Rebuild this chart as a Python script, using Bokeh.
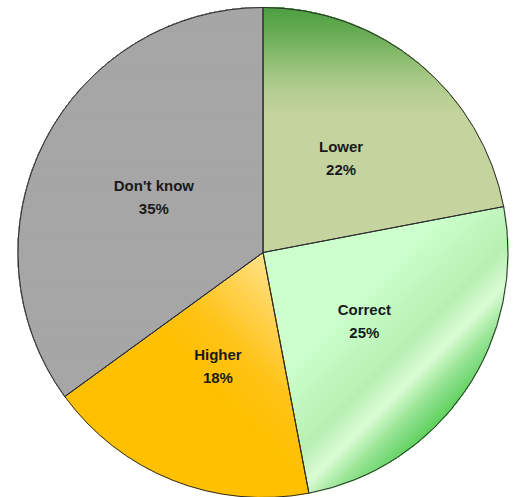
import math
import numpy as np
from bokeh.plotting import figure
from bokeh.models import ColumnDataSource, Range1d
from bokeh.embed import file_html
from bokeh.resources import INLINE
from bokeh.core.properties import value

# ---- data ----
categories = ["Lower", "Correct", "Higher", "Don't know"]
shares = [22, 25, 18, 35]

# ---- styling: gradient stops (s = projection on direction / radius) ----
grad_dirs = {"Lower": 90, "Correct": -45, "Higher": 45, "Don't know": 90}
grad_stops = {
    "Lower": [(0.55, "#c5d49e"), (0.66, "#b3cd90"), (0.76, "#97c27a"),
              (0.88, "#6cae57"), (1.0, "#4c9f42")],
    "Correct": [(0.40, "#ccffcc"), (0.68, "#b8f0b2"), (0.79, "#dbfcd5"),
                (0.87, "#a2e89e"), (1.0, "#5acf5a")],
    "Higher": [(-0.55, "#ffc000"), (-0.36, "#ffc317"), (-0.18, "#ffd24f"),
               (0.0, "#ffe38c")],
    "Don't know": [(-1.0, "#a6a6a6"), (1.0, "#a6a6a6")],
}

W, H = 514, 497
cx, cy, R = 262.5, 245.0, 245.0


def hex2rgb(h):
    h = h.lstrip("#")
    return np.array([int(h[i:i + 2], 16) for i in (0, 2, 4)], dtype=float)


def color_at(stops, s):
    if s <= stops[0][0]:
        return stops[0][1]
    for (s0, c0), (s1, c1) in zip(stops[:-1], stops[1:]):
        if s <= s1:
            f = (s - s0) / (s1 - s0)
            rgb = hex2rgb(c0) * (1 - f) + hex2rgb(c1) * f
            return "#%02x%02x%02x" % tuple(int(round(v)) for v in rgb)
    return stops[-1][1]


def clip(poly, d, t):
    # keep points where dot(p - c, d) / R >= t
    out = []
    n = len(poly)
    def val(pt):
        return ((pt[0] - cx) * d[0] + (pt[1] - cy) * d[1]) / R - t
    for i in range(n):
        p1, p2 = poly[i], poly[(i + 1) % n]
        v1, v2 = val(p1), val(p2)
        if v1 >= 0:
            out.append(p1)
        if (v1 >= 0) != (v2 >= 0):
            f = v1 / (v1 - v2)
            out.append((p1[0] + f * (p2[0] - p1[0]), p1[1] + f * (p2[1] - p1[1])))
    return out


total = sum(shares)
starts, ends, lx, ly, labels = [], [], [], [], []
band_xs, band_ys, band_cols = [], [], []
a = math.pi / 2
for cat, s in zip(categories, shares):
    sweep = 2 * math.pi * s / total
    e = a - sweep
    starts.append(e)
    ends.append(a)
    mid = (a + e) / 2
    lx.append(cx + 0.5 * R * math.cos(mid))
    ly.append(cy + 0.5 * R * math.sin(mid))
    labels.append(f"{cat}\n{s}%")

    angs = np.linspace(e, a, 200)
    poly = [(cx, cy)] + [(cx + R * math.cos(t), cy + R * math.sin(t)) for t in angs]
    th = math.radians(grad_dirs[cat])
    d = (math.cos(th), math.sin(th))
    stops = grad_stops[cat]
    band_xs.append([pt[0] for pt in poly])
    band_ys.append([pt[1] for pt in poly])
    band_cols.append(stops[0][1])
    for t in np.linspace(stops[0][0], stops[-1][0], 60)[1:]:
        cp = clip(poly, d, t)
        if len(cp) >= 3:
            band_xs.append([pt[0] for pt in cp])
            band_ys.append([pt[1] for pt in cp])
            band_cols.append(color_at(stops, t))
    a = e

src = ColumnDataSource(dict(start=starts, end=ends, lx=lx, ly=ly, label=labels))
bands = ColumnDataSource(dict(xs=band_xs, ys=band_ys, color=band_cols))

p = figure(width=W, height=H, output_backend="svg", toolbar_location=None,
           x_range=Range1d(0, W), y_range=Range1d(0, H), min_border=0)
p.axis.visible = False
p.grid.visible = False
p.outline_line_color = None
p.background_fill_color = "white"

p.patches(xs="xs", ys="ys", fill_color="color", line_color="color",
          line_width=0.6, source=bands)
p.wedge(x=cx, y=cy, radius=R, start_angle="start", end_angle="end",
        fill_color=None, line_color="#2b2b2b", line_width=1, source=src)
p.text(x="lx", y="ly", text="label", source=src, text_align="center",
       text_baseline="middle", text_font=value("Liberation Sans"),
       text_font_style="bold", text_font_size="15px", text_color="#1a1a1a",
       text_line_height=1.35)

open("out.html", "w").write(file_html(p, INLINE))
